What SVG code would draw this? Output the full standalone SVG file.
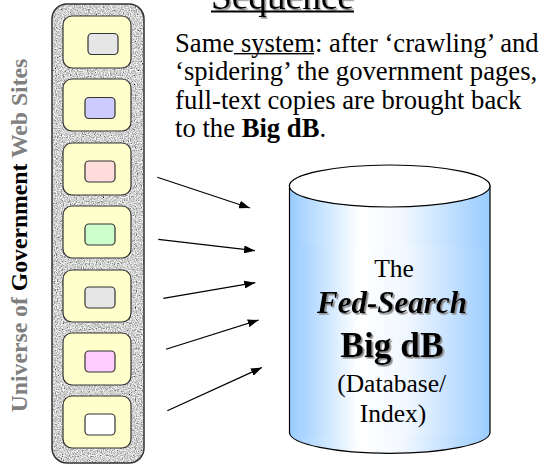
<svg xmlns="http://www.w3.org/2000/svg" width="544" height="467" viewBox="0 0 544 467">
<defs>
<style>
.serif{font-family:"Liberation Serif","DejaVu Serif",serif;}
.site{fill:#ffffcc;stroke:#333;stroke-width:1.2;}
.page{stroke:#333;stroke-width:1.2;}
.conn{stroke:#000;stroke-width:1.2;fill:none;marker-end:url(#arrow);}
</style>
<marker id="arrow" markerUnits="userSpaceOnUse" markerWidth="12" markerHeight="8" refX="11" refY="4" orient="auto">
<path d="M0,0 L11,4 L0,8 z" fill="#000"/>
</marker>
<filter id="granite" x="0" y="0" width="1" height="1">
<feTurbulence type="fractalNoise" baseFrequency="0.85" numOctaves="3" seed="5" result="t"/>
<feColorMatrix in="t" type="matrix" values="0.33 0.33 0.33 0 0 0.33 0.33 0.33 0 0 0.33 0.33 0.33 0 0 0 0 0 0 1" result="g"/>
<feComponentTransfer in="g" result="c">
<feFuncR type="linear" slope="2.8" intercept="-0.75"/>
<feFuncG type="linear" slope="2.8" intercept="-0.75"/>
<feFuncB type="linear" slope="2.8" intercept="-0.75"/>
<feFuncA type="linear" slope="0" intercept="1"/>
</feComponentTransfer>
<feComposite in="c" in2="SourceGraphic" operator="in"/>
</filter>
<filter id="shadow" x="-5%" y="-10%" width="115%" height="130%">
<feDropShadow dx="1.6" dy="1.6" stdDeviation="0.3" flood-color="#888" flood-opacity="1"/>
</filter>
<linearGradient id="cyl" x1="0" y1="0" x2="1" y2="0">
<stop offset="0" stop-color="#99ccff"/>
<stop offset="0.35" stop-color="#ffffff"/>
<stop offset="0.55" stop-color="#f4f9ff"/>
<stop offset="1" stop-color="#99ccff"/>
</linearGradient>
<linearGradient id="cyl2" x1="0" y1="0" x2="1" y2="0">
<stop offset="0" stop-color="#a6d2ff"/>
<stop offset="0.3" stop-color="#ffffff"/>
<stop offset="0.6" stop-color="#eef6ff"/>
<stop offset="1" stop-color="#a3d0ff"/>
</linearGradient>
</defs>
<rect width="544" height="467" fill="#fff"/>

<g id="heading" class="serif">
<text x="211" y="8.5" font-size="37.3" fill="#000" filter="url(#shadow)">Sequence</text>
<rect x="211" y="10.5" width="143" height="2" fill="#000"/>
</g>

<g id="description" class="serif" font-size="26.67" fill="#000">
<text x="175" y="52">Same system: after ‘crawling’ and</text>
<rect x="234" y="53" width="80" height="1.4" fill="#000"/>
<text x="175" y="80.3">‘spidering’ the government pages,</text>
<text x="175" y="108.7">full-text copies are brought back</text>
<text x="175" y="137">to the <tspan font-weight="bold">Big dB</tspan>.</text>
</g>

<g id="universe-label" class="serif" font-weight="bold" font-size="23.7">
<text transform="translate(27,235.5) rotate(-90)" text-anchor="middle" fill="#808080">Universe of <tspan fill="#000">Government</tspan> Web Sites</text>
</g>

<g id="web-sites-column">
<rect x="52" y="4" width="92" height="459" rx="15" fill="#aaa" filter="url(#granite)"/>
<rect x="52" y="4" width="92" height="459" rx="15" fill="none" stroke="#333" stroke-width="1.5"/>
</g>

<g id="site1"><rect class="site" x="63" y="16" width="68" height="52" rx="9"/><rect class="page" x="88" y="33.5" width="30" height="21" rx="4" fill="#e6e6e6"/></g>
<g id="site2"><rect class="site" x="63" y="79" width="68" height="52" rx="9"/><rect class="page" x="85" y="97.5" width="30" height="21" rx="4" fill="#ccccff"/></g>
<g id="site3"><rect class="site" x="63" y="143" width="68" height="52" rx="9"/><rect class="page" x="85" y="161" width="30" height="21" rx="4" fill="#ffdddd"/></g>
<g id="site4"><rect class="site" x="63" y="206" width="68" height="52" rx="9"/><rect class="page" x="85" y="224" width="30" height="21" rx="4" fill="#ccffcc"/></g>
<g id="site5"><rect class="site" x="63" y="270" width="68" height="52" rx="9"/><rect class="page" x="85" y="287" width="30" height="21" rx="4" fill="#e6e6e6"/></g>
<g id="site6"><rect class="site" x="63" y="333" width="68" height="52" rx="9"/><rect class="page" x="85" y="351" width="30" height="21" rx="4" fill="#ffccff"/></g>
<g id="site7"><rect class="site" x="63" y="396" width="68" height="52" rx="9"/><rect class="page" x="85" y="414" width="30" height="21" rx="4" fill="#ffffff"/></g>

<g id="connectors">
<line class="conn" x1="157.3" y1="177.3" x2="250" y2="208"/>
<line class="conn" x1="158.3" y1="239.3" x2="255" y2="250.7"/>
<line class="conn" x1="163.3" y1="298.3" x2="255.3" y2="282.7"/>
<line class="conn" x1="166" y1="349.3" x2="258.7" y2="320"/>
<line class="conn" x1="167.3" y1="410.7" x2="262" y2="367.5"/>
</g>

<g id="big-db">
<path d="M289.5,186 L289.5,433 A100.3,21 0 0 0 490,433 L490,186 Z" fill="url(#cyl)" stroke="#000" stroke-width="1.2"/>
<rect x="303" y="246" width="181" height="190" fill="url(#cyl2)" opacity="0.8"/>
<ellipse cx="389.7" cy="186" rx="100.3" ry="21" fill="#fff" stroke="#000" stroke-width="1.2"/>
<g class="serif" text-anchor="middle">
<text x="394" y="276.7" font-size="25.5">The</text>
<text x="392" y="313.3" font-size="31" font-weight="bold" font-style="italic" filter="url(#shadow)">Fed-Search</text>
<text x="392" y="356.7" font-size="35.5" font-weight="bold" filter="url(#shadow)">Big dB</text>
<text x="391.7" y="391.7" font-size="25.5">(Database/</text>
<text x="393" y="421.7" font-size="25.5">Index)</text>
</g>
</g>
</svg>
